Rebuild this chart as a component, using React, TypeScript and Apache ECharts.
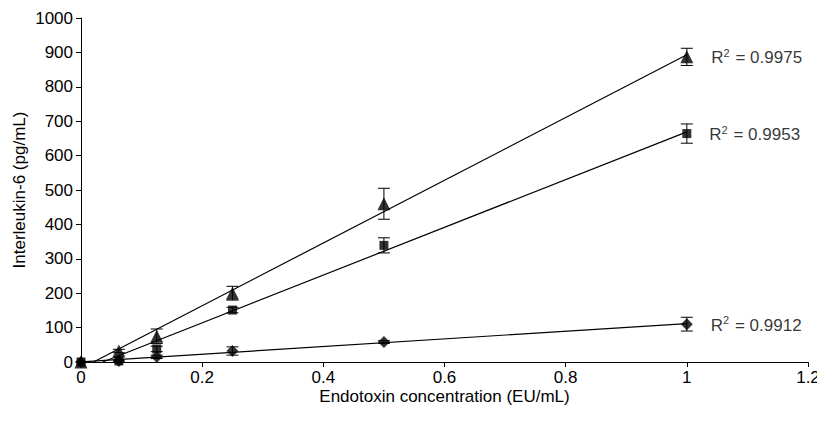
import React, { useEffect, useRef } from "react";
import * as echarts from "echarts";

const concentrations = [0, 0.0625, 0.125, 0.25, 0.5, 1];
const triangleValues = [0, 32, 75, 200, 460, 887];
const triangleErrors = [0, 5, 21, 20, 45, 25];
const squareValues = [0, 3, 38, 151, 339, 664];
const squareErrors = [0, 3, 8, 8, 22, 28];
const diamondValues = [0, 3, 15, 32, 58, 110];
const diamondErrors = [0, 0, 5, 12, 4, 20];
const r2Labels = ["0.9975", "0.9953", "0.9912"];
const xTicks = [0, 0.2, 0.4, 0.6, 0.8, 1, 1.2];
const yTicks = [0, 100, 200, 300, 400, 500, 600, 700, 800, 900, 1000];

function regression(xs: number[], ys: number[]) {
  const n = xs.length;
  const mx = xs.reduce((a, b) => a + b, 0) / n;
  const my = ys.reduce((a, b) => a + b, 0) / n;
  let sxy = 0, sxx = 0;
  for (let i = 0; i < n; i++) {
    sxy += (xs[i] - mx) * (ys[i] - my);
    sxx += (xs[i] - mx) * (xs[i] - mx);
  }
  const slope = sxy / sxx;
  const intercept = my - slope * mx;
  const x0 = Math.max(0, -intercept / slope);
  const x1 = xs[n - 1];
  return [[x0, slope * x0 + intercept], [x1, slope * x1 + intercept]];
}

const FONT = "Liberation Sans";

export default function App() {
  const ref = useRef<HTMLDivElement>(null);
  useEffect(() => {
    if (!ref.current) return;
    const chart = echarts.init(ref.current, undefined, { renderer: "svg" });
    const groups = [
      { vals: triangleValues, errs: triangleErrors, symbol: "triangle", size: 13, r2: r2Labels[0] },
      { vals: squareValues, errs: squareErrors, symbol: "rect", size: 9, r2: r2Labels[1] },
      { vals: diamondValues, errs: diamondErrors, symbol: "diamond", size: 12, r2: r2Labels[2] },
    ];
    const series: any[] = [];
    groups.forEach((g) => {
      series.push({
        type: "line",
        data: regression(concentrations, g.vals),
        symbol: "none",
        lineStyle: { color: "#000", width: 1.2 },
        z: 2,
      });
      series.push({
        type: "custom",
        data: concentrations.map((x, i) => [x, g.vals[i], g.errs[i]]),
        renderItem: (params: any, api: any) => {
          const x = api.value(0);
          const y = api.value(1);
          const e = api.value(2);
          if (!e) return null;
          const top = api.coord([x, y + e]);
          const bot = api.coord([x, y - e]);
          const w = 6;
          const style = { stroke: "#000", lineWidth: 1 };
          return {
            type: "group",
            children: [
              { type: "line", shape: { x1: top[0], y1: top[1], x2: bot[0], y2: bot[1] }, style },
              { type: "line", shape: { x1: top[0] - w, y1: top[1], x2: top[0] + w, y2: top[1] }, style },
              { type: "line", shape: { x1: bot[0] - w, y1: bot[1], x2: bot[0] + w, y2: bot[1] }, style },
            ],
          };
        },
        z: 3,
      });
      series.push({
        type: "scatter",
        data: concentrations.map((x, i) => [x, g.vals[i]]),
        symbol: g.symbol,
        symbolSize: g.size,
        itemStyle: { color: "#000" },
        z: 4,
        label: {
          show: true,
          position: "right",
          distance: 18,
          formatter: (p: any) => (p.dataIndex === concentrations.length - 1 ? `{r|R}{s|2}{r| = ${g.r2}}` : ""),
          rich: {
            r: { fontFamily: FONT, fontSize: 17, color: "#000", verticalAlign: "bottom" },
            s: { fontFamily: FONT, fontSize: 11, color: "#000", verticalAlign: "top", padding: [0, 1, 8, 0] },
          },
        },
      });
    });
    chart.setOption({
      animation: false,
      grid: { left: 73, right: 17, top: 10, bottom: 54, outerBoundsMode: "none", containLabel: false },
      xAxis: {
        type: "value",
        min: 0,
        max: 1.2,
        interval: 0.2,
        name: "Endotoxin concentration (EU/mL)",
        nameLocation: "middle",
        nameGap: 26,
        nameMoveOverlap: false,
        nameTextStyle: { fontFamily: FONT, fontSize: 17, color: "#000" },
        axisLine: { lineStyle: { color: "#000", width: 1 } },
        axisTick: { show: true, inside: false, length: 5, lineStyle: { color: "#000" } },
        axisLabel: {
          fontFamily: FONT,
          fontSize: 17,
          color: "#000",
          margin: 7,
          formatter: (v: number) => {
            const t = xTicks.find((k) => Math.abs(k - v) < 1e-9);
            return t === undefined ? "" : String(t);
          },
        },
        splitLine: { show: false },
      },
      yAxis: {
        type: "value",
        min: 0,
        max: 1000,
        interval: 100,
        name: "Interleukin-6 (pg/mL)",
        nameLocation: "middle",
        nameGap: 53,
        nameMoveOverlap: false,
        nameTextStyle: { fontFamily: FONT, fontSize: 17, color: "#000" },
        axisLine: { show: true, lineStyle: { color: "#000", width: 1 } },
        axisTick: { show: true, inside: false, length: 5, lineStyle: { color: "#000" } },
        axisLabel: {
          fontFamily: FONT,
          fontSize: 17,
          color: "#000",
          margin: 8,
          formatter: (v: number) => (yTicks.includes(v) ? String(v) : ""),
        },
        splitLine: { show: false },
      },
      series,
    });
    return () => chart.dispose();
  }, []);
  return <div ref={ref} style={{ width: 817, height: 408 }} />;
}
